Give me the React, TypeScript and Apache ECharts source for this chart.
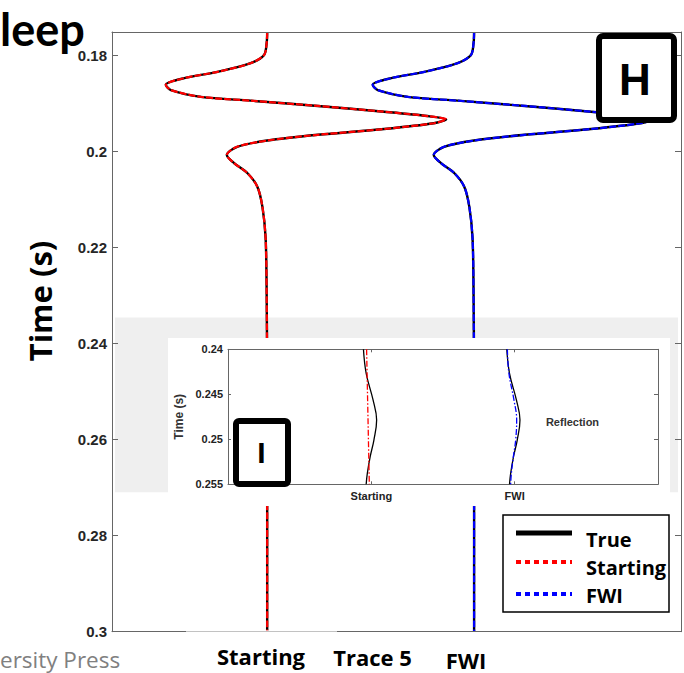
import React, { useEffect, useRef } from "react";
import * as echarts from "echarts";

// ---- main panel data (times in s, amplitudes in trace units) ----
const mainTime = [0.1752, 0.1775, 0.18, 0.1817, 0.1835, 0.1848, 0.1862, 0.1873, 0.1887, 0.1895, 0.1906, 0.1918, 0.1927, 0.1934, 0.1942, 0.1954, 0.1966, 0.1978, 0.1991, 0.2008, 0.2025, 0.2046, 0.2074, 0.2116, 0.2181, 0.23, 0.25, 0.275, 0.3];
const mainAmp = [0.0, -0.005, -0.03, -0.16, -0.48, -0.8, -0.98, -0.93, -0.64, -0.16, 0.49, 1.13, 1.55, 1.73, 1.61, 1.13, 0.49, 0.0, -0.29, -0.39, -0.32, -0.19, -0.095, -0.046, -0.015, -0.005, 0, 0, 0];
const traceNames = ["Starting", "Trace 5", "FWI"];
const traceOffsets = [1, 2, 3];
const mainTicks = [0.18, 0.2, 0.22, 0.24, 0.26, 0.28, 0.3];
const mainBand = [0.2346, 0.271];

// ---- inset data ----
const insetTime = [0.24, 0.24267, 0.24563, 0.24786, 0.25008, 0.25193, 0.25378, 0.255];
const insetTrue = [-0.055, -0.036, 0.012, 0.037, 0.018, -0.008, -0.028, -0.036];
const insetStartTime = [0.24, 0.255];
const insetStart = [-0.033, -0.014];
const insetFWI = [-0.051, -0.04, -0.005, 0.014, 0.007, -0.009, -0.023, -0.028];
const insetNames = ["Starting", "FWI"];
const insetOffsets = [1, 2];
const insetTicks = [0.24, 0.245, 0.25, 0.255];
const insetBand = [0.24333, 0.252];

const legendNames = ["True", "Starting", "FWI"];
const legendColors = ["#000000", "#ff0000", "#0000ff"];

const BOLD_SANS = "Open Sans";
const HELV = "Liberation Sans";

export default function App() {
  const ref = useRef<HTMLDivElement>(null);
  useEffect(() => {
    if (!ref.current) return;
    const chart = echarts.init(ref.current, null, { renderer: "svg" });
    const pair = (ts: number[], as: number[], off: number) => ts.map((t, i) => [as[i] + off, t]);
    const axisCol = "#666";
    const startOff = traceOffsets[0];
    const fwiOff = traceOffsets[2];
    const line = { show: true, onZero: false, lineStyle: { color: axisCol, width: 1 } };

    const option: any = {
      animation: false,
      backgroundColor: "#ffffff",
      grid: [
        { left: 112, top: 32, width: 569, height: 599.7 },
        { left: 228, top: 349.3, width: 430, height: 135 },
      ],
      xAxis: [
        { gridIndex: 0, type: "value", min: -0.5, max: 5.0, position: "bottom", z: 5, axisLine: line,
          axisTick: { show: false }, axisLabel: { show: false }, splitLine: { show: false } },
        { gridIndex: 0, type: "value", min: -0.5, max: 5.0, position: "top", z: 5, axisLine: line,
          axisTick: { show: false }, axisLabel: { show: false }, splitLine: { show: false } },
        { gridIndex: 1, type: "value", min: 0, max: 3, position: "bottom", z: 60, axisLine: line,
          axisTick: { show: true, inside: true, length: 3, customValues: insetOffsets, lineStyle: { color: axisCol } },
          axisLabel: { show: true, customValues: insetOffsets, margin: 6,
            formatter: (v: number) => insetNames[insetOffsets.indexOf(Math.round(v))] || "",
            fontFamily: HELV, fontWeight: "bold", fontSize: 11, color: "#222" },
          splitLine: { show: false } },
        { gridIndex: 1, type: "value", min: 0, max: 3, position: "top", z: 60, axisLine: line,
          axisTick: { show: true, inside: true, length: 3, customValues: insetOffsets, lineStyle: { color: axisCol } },
          axisLabel: { show: false }, splitLine: { show: false } },
      ],
      yAxis: [
        { gridIndex: 0, type: "value", inverse: true, min: 0.17521, max: 0.3, position: "left", z: 5, axisLine: line,
          axisTick: { show: true, inside: true, length: 6, customValues: mainTicks, lineStyle: { color: axisCol } },
          axisLabel: { show: true, customValues: mainTicks, margin: 5, formatter: (v: number) => String(+v.toFixed(3)),
            fontFamily: HELV, fontWeight: "bold", fontSize: 15, color: "#262626" },
          splitLine: { show: false } },
        { gridIndex: 0, type: "value", inverse: true, min: 0.17521, max: 0.3, position: "right", z: 5, axisLine: line,
          axisTick: { show: true, inside: true, length: 6, customValues: mainTicks, lineStyle: { color: axisCol } },
          axisLabel: { show: false }, splitLine: { show: false } },
        { gridIndex: 1, type: "value", inverse: true, min: 0.24, max: 0.255, position: "left", z: 60, axisLine: line,
          name: "Time (s)", nameLocation: "middle", nameRotate: 90, nameGap: 32,
          nameTextStyle: { fontFamily: HELV, fontWeight: "bold", fontSize: 12, color: "#333" },
          axisTick: { show: true, inside: true, length: 3, customValues: insetTicks, lineStyle: { color: axisCol } },
          axisLabel: { show: true, customValues: insetTicks, margin: 5, formatter: (v: number) => String(+v.toFixed(3)),
            fontFamily: HELV, fontWeight: "bold", fontSize: 11, color: "#222" },
          splitLine: { show: false } },
        { gridIndex: 1, type: "value", inverse: true, min: 0.24, max: 0.255, position: "right", z: 60, axisLine: line,
          axisTick: { show: true, inside: true, length: 4, customValues: [insetTicks[1], insetTicks[2]], lineStyle: { color: axisCol } },
          axisLabel: { show: false }, splitLine: { show: false } },
      ],
      series: [
        { type: "line", xAxisIndex: 0, yAxisIndex: 0, data: [], z: 1, silent: true,
          markArea: { silent: true, itemStyle: { color: "#efefef" },
            data: [[{ xAxis: -0.471, yAxis: mainBand[0] }, { xAxis: 4.971, yAxis: mainBand[1] }]] } },
        { name: "True", type: "line", xAxisIndex: 0, yAxisIndex: 0, z: 2, showSymbol: false, smooth: 0.3,
          data: pair(mainTime, mainAmp, startOff), lineStyle: { color: "#000", width: 2.4 } },
        { name: "Starting", type: "line", xAxisIndex: 0, yAxisIndex: 0, z: 3, showSymbol: false, smooth: 0.3,
          data: pair(mainTime, mainAmp, startOff), lineStyle: { color: "#ff0000", width: 2.2, type: [7, 2] } },
        { name: "True", type: "line", xAxisIndex: 0, yAxisIndex: 0, z: 2, showSymbol: false, smooth: 0.3,
          data: pair(mainTime, mainAmp, fwiOff), lineStyle: { color: "#000", width: 2.4 } },
        { name: "FWI", type: "line", xAxisIndex: 0, yAxisIndex: 0, z: 3, showSymbol: false, smooth: 0.3,
          data: pair(mainTime, mainAmp, fwiOff), lineStyle: { color: "#0000ff", width: 2.2, type: [7, 2] } },

        { type: "line", xAxisIndex: 2, yAxisIndex: 2, data: [], z: 55, silent: true,
          markArea: { silent: true, itemStyle: { color: "#efefef" },
            data: [[{ yAxis: insetBand[0] }, { yAxis: insetBand[1] }]] } },
        { name: "True", type: "line", xAxisIndex: 2, yAxisIndex: 2, z: 62, showSymbol: false, smooth: 0.4,
          data: pair(insetTime, insetTrue, insetOffsets[0]), lineStyle: { color: "#000", width: 1.3 } },
        { name: "True", type: "line", xAxisIndex: 2, yAxisIndex: 2, z: 62, showSymbol: false, smooth: 0.4,
          data: pair(insetTime, insetTrue, insetOffsets[1]), lineStyle: { color: "#000", width: 1.3 } },
        { name: "Starting", type: "line", xAxisIndex: 2, yAxisIndex: 2, z: 63, showSymbol: false,
          data: pair(insetStartTime, insetStart, insetOffsets[0]), lineStyle: { color: "#ff0000", width: 1.3, type: [6, 2, 1.5, 2] } },
        { name: "FWI", type: "line", xAxisIndex: 2, yAxisIndex: 2, z: 63, showSymbol: false, smooth: 0.4,
          data: pair(insetTime, insetFWI, insetOffsets[1]), lineStyle: { color: "#0000ff", width: 1.3, type: [6, 2, 1.5, 2] } },
      ],
      graphic: [
        { type: "rect", z: 50, silent: true, shape: { x: 168, y: 338, width: 502, height: 168 }, style: { fill: "#ffffff" } },
        { type: "rect", z: 10, silent: true, shape: { x: 186, y: 630, width: 151, height: 4 }, style: { fill: "rgba(255,255,255,0.6)" } },
        { type: "text", z: 70, x: 572.5, y: 421.5, style: { text: "Reflection", fontFamily: HELV, fontWeight: "bold", fontSize: 11, fill: "#333", textAlign: "center", textVerticalAlign: "middle" } },
        // H box
        { type: "rect", z: 100, shape: { x: 599, y: 36, width: 75, height: 84, r: 4 }, style: { fill: "#fff", stroke: "#000", lineWidth: 6 } },
        { type: "text", z: 101, x: 635, y: 79, style: { text: "H", fontFamily: HELV, fontWeight: "bold", fontSize: 44, fill: "#000", textAlign: "center", textVerticalAlign: "middle" } },
        // I box
        { type: "rect", z: 100, shape: { x: 236, y: 421, width: 52, height: 63, r: 3 }, style: { fill: "#fff", stroke: "#000", lineWidth: 6 } },
        { type: "text", z: 101, x: 261.5, y: 452.5, style: { text: "I", fontFamily: HELV, fontWeight: "bold", fontSize: 30, fill: "#000", textAlign: "center", textVerticalAlign: "middle" } },
        // legend
        { type: "rect", z: 100, shape: { x: 503, y: 515, width: 166, height: 97 }, style: { fill: "#fff", stroke: "#000", lineWidth: 1.5 } },
        { type: "line", z: 101, shape: { x1: 516, y1: 533, x2: 572, y2: 533 }, style: { stroke: legendColors[0], lineWidth: 5 } },
        { type: "line", z: 101, shape: { x1: 516, y1: 562, x2: 572, y2: 562 }, style: { stroke: legendColors[1], lineWidth: 4, lineDash: [5, 4] } },
        { type: "line", z: 101, shape: { x1: 516, y1: 594, x2: 572, y2: 594 }, style: { stroke: legendColors[2], lineWidth: 4, lineDash: [5, 4] } },
        { type: "text", z: 101, x: 586, y: 539, style: { text: legendNames[0], fontFamily: BOLD_SANS, fontWeight: "bold", fontSize: 20, fill: "#000", textAlign: "left", textVerticalAlign: "middle" } },
        { type: "text", z: 101, x: 586, y: 567, style: { text: legendNames[1], fontFamily: BOLD_SANS, fontWeight: "bold", fontSize: 20, fill: "#000", textAlign: "left", textVerticalAlign: "middle" } },
        { type: "text", z: 101, x: 586, y: 595, style: { text: legendNames[2], fontFamily: BOLD_SANS, fontWeight: "bold", fontSize: 20, fill: "#000", textAlign: "left", textVerticalAlign: "middle" } },
        // main axis titles / labels
        { type: "text", z: 20, x: 40, y: 301, rotation: Math.PI / 2, style: { text: "Time (s)", fontFamily: BOLD_SANS, fontWeight: "bold", fontSize: 31, fill: "#000", textAlign: "center", textVerticalAlign: "middle" } },
        { type: "text", z: 20, x: 261, y: 655.5, style: { text: traceNames[0], fontFamily: BOLD_SANS, fontWeight: "bold", fontSize: 22, fill: "#000", textAlign: "center", textVerticalAlign: "middle" } },
        { type: "text", z: 20, x: 372.5, y: 656.5, style: { text: traceNames[1], fontFamily: BOLD_SANS, fontWeight: "bold", fontSize: 22, fill: "#000", textAlign: "center", textVerticalAlign: "middle" } },
        { type: "text", z: 20, x: 466, y: 659.5, style: { text: traceNames[2], fontFamily: BOLD_SANS, fontWeight: "bold", fontSize: 22, fill: "#000", textAlign: "center", textVerticalAlign: "middle" } },
        { type: "text", z: 20, x: 0, y: 29, style: { text: "leep", fontFamily: "Lato", fontWeight: "bold", fontSize: 45, fill: "#000", textAlign: "left", textVerticalAlign: "middle" } },
        { type: "text", z: 20, x: 0, y: 659, style: { text: "ersity Press", fontFamily: BOLD_SANS, fontSize: 22.5, fill: "#808080", textAlign: "left", textVerticalAlign: "middle" } },
      ],
    };
    chart.setOption(option);
    return () => chart.dispose();
  }, []);
  return <div ref={ref} style={{ position: "absolute", left: 0, top: 0, width: 684, height: 673 }} />;
}
